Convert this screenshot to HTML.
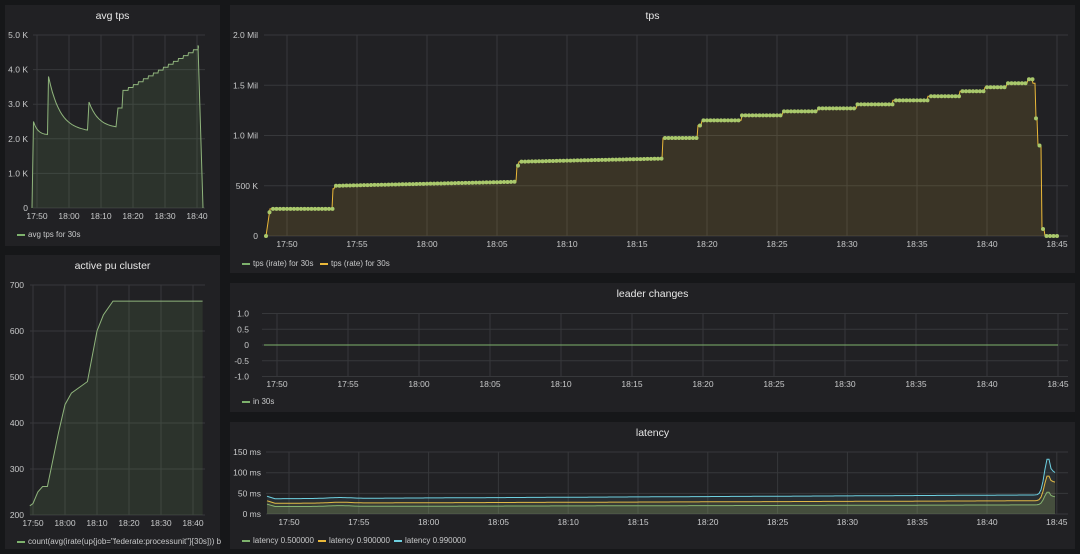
<!DOCTYPE html>
<html><head><meta charset="utf-8"><style>
body{margin:0;background:#161719;width:1080px;height:554px;overflow:hidden;font-family:"Liberation Sans",sans-serif;}
svg{position:absolute;left:0;top:0}
</style></head><body>
<svg id="s" width="1080" height="554" xmlns="http://www.w3.org/2000/svg" font-family="Liberation Sans, sans-serif"></svg>
<script>
const s=document.getElementById('s');let h='';
function panel(x,y,w,hh,t){h+=`<rect x="${x}" y="${y}" width="${w}" height="${hh}" fill="#212124"/>`;
h+=`<text x="${x+w/2}" y="${y+14}" fill="#e8e8e8" font-size="10.5" text-anchor="middle">${t}</text>`;}
function txt(x,y,t,a,c,fs){h+=`<text x="${x}" y="${y}" fill="${c||'#c8c9ca'}" font-size="${fs||8.5}" text-anchor="${a||'middle'}">${t}</text>`;}
function hl(x1,x2,y){h+=`<line x1="${x1}" x2="${x2}" y1="${y}" y2="${y}" stroke="#37383b" stroke-width="1"/>`;}
function vl(x,y1,y2){h+=`<line x1="${x}" x2="${x}" y1="${y1}" y2="${y2}" stroke="#37383b" stroke-width="1"/>`;}
function leg(x,y,t,c){h+=`<rect x="${x}" y="${y-3}" width="8" height="2" fill="${c}"/>`;txt(x+11,y,t,'start',null,8);}
function path(pts,stroke,fill,base){let d='M'+pts.map(p=>p[0].toFixed(1)+','+p[1].toFixed(1)).join('L');
 if(fill){h+=`<path d="${d}L${pts[pts.length-1][0]},${base}L${pts[0][0]},${base}Z" fill="${fill}"/>`;}
 h+=`<path d="${d}" stroke="${stroke}" fill="none" stroke-width="1"/>`;}
panel(5,5,215,241,'avg tps');panel(5,255,215,294,'active pu cluster');
panel(230,5,845,268,'tps');panel(230,283,845,129,'leader changes');panel(230,422,845,127,'latency');
// avg tps
{let L=33,R=205;[0,1,2,3,4,5].forEach(i=>{let y=208-34.6*i;hl(L,R,y);txt(28,y+3,i?i+'.0 K':'0','end');});
['17:50','18:00','18:10','18:20','18:30','18:40'].forEach((t,i)=>{let x=37+32*i;vl(x,35,208);txt(x,219,t);});
let p=[[32,208],[33.5,121.5]];
for(let i=1;i<=10;i++){let x=33.5+i*1.4;p.push([x,135+(121.5-135)*Math.exp(-i/3)]);}
p.push([48.5,76.5]);for(let i=1;i<=20;i++){let x=48.5+i*1.95;p.push([x,132+(76.5-132)*Math.exp(-i/6)]);}
p.push([89,102]);for(let i=1;i<=14;i++){let x=89+i*1.93;p.push([x,128.4+(102-128.4)*Math.exp(-i/5)]);}
p.push([118,108],[122,108],[123,90.4]);
let lv=90.4,x=123;while(x<196){x+=5;p.push([x,lv]);lv-=2.9;p.push([x+0.5,lv]);}
p.push([198,45.4],[203,208]);
path(p,'#8fb47c','rgba(126,178,109,0.12)',208);
leg(17,237,'avg tps for 30s','#7eb26d');}
// active pu
{let L=30,R=205;[200,300,400,500,600,700].forEach(v=>{let y=515-0.46*(v-200);hl(L,R,y);txt(24,y+3,v,'end');});
['17:50','18:00','18:10','18:20','18:30','18:40'].forEach((t,i)=>{let x=33+32*i;vl(x,285,515);txt(x,526,t);});
let d=[[-1,220],[0,225],[1.5,250],[3,262],[4.5,262],[8,380],[10,440],[12,465],[17,490],[20,600],[22,635],[25,665],[53,665]];
path(d.map(a=>[33+3.2*a[0],515-0.46*(a[1]-200)]),'#8fb47c','rgba(126,178,109,0.12)',515);
leg(17,544,'count(avg(irate(up{job="federate:processunit"}[30s])) b','#7eb26d');}
// tps
{let L=264,R=1068;[0,0.5,1,1.5,2].forEach(v=>{let y=236-100.5*v;hl(L,R,y);txt(258,y+3,v==0?'0':v==0.5?'500 K':v.toFixed(1)+' Mil','end');});
['17:50','17:55','18:00','18:05','18:10','18:15','18:20','18:25','18:30','18:35','18:40','18:45'].forEach((t,i)=>{let x=287+70*i;vl(x,35,236);txt(x,247,t);});
function f(x){if(x<266)return 0;if(x<270)return 0.27*(x-266)/4;if(x<333)return 0.27;if(x<335)return 0.47;if(x<517)return 0.5+0.04*(x-338)/180;
if(x<519)return 0.7;if(x<663)return 0.74+0.03*(x-522)/140;if(x<698)return 0.975;if(x<702)return 1.1;
const st=[[742,1.15],[783,1.2],[818,1.24],[857,1.27],[893,1.31],[928,1.35],[960,1.39],[985,1.44],[1007,1.48],[1028,1.52],[1033,1.56]];
for(const a of st)if(x<a[0])return a[1];
if(x<1036)return 1.52;if(x<1038)return 1.17;if(x<1042)return 0.9;if(x<1045)return 0.07;return 0;}
let p=[],dots='';for(let x=266;x<=1058;x+=1){p.push([x,236-100.5*f(x)]);}
path(p,'#eab839','rgba(234,184,57,0.13)',236);
for(let x=266;x<=1058;x+=3.5){dots+=`<circle cx="${x}" cy="${236-100.5*f(x)}" r="2" fill="#a9c86c"/>`;}
h+=dots;
leg(242,266,'tps (irate) for 30s','#7eb26d');leg(320,266,'tps (rate) for 30s','#eab839');}
// leader changes
{let L=262,R=1068;[[1,'1.0'],[0.5,'0.5'],[0,'0'],[-0.5,'-0.5'],[-1,'-1.0']].forEach(a=>{let y=345-31.5*a[0];hl(L,R,y);txt(249,y+3,a[1],'end');});
['17:50','17:55','18:00','18:05','18:10','18:15','18:20','18:25','18:30','18:35','18:40','18:45'].forEach((t,i)=>{let x=277+71*i;vl(x,313,376);txt(x,387,t);});
h+=`<line x1="264" x2="1058" y1="345" y2="345" stroke="#7eb26d"/>`;
leg(242,404,'in 30s','#7eb26d');}
// latency
{let L=266,R=1068;[[0,'0 ms'],[50,'50 ms'],[100,'100 ms'],[150,'150 ms']].forEach(a=>{let y=514-0.413*a[0];hl(L,R,y);txt(261,y+3,a[1],'end');});
['17:50','17:55','18:00','18:05','18:10','18:15','18:20','18:25','18:30','18:35','18:40','18:45'].forEach((t,i)=>{let x=289+69.8*i;vl(x,452,514);txt(x,525,t);});
function ser(base,rise,spk,end){let p=[];for(let x=267;x<=1056;x+=2){let v=base+rise*(x-267)/760;
 if(x<275)v+=6*(275-x)/8; v+=2*Math.exp(-Math.pow((x-340)/15,2));
 v+=spk*Math.exp(-Math.pow((x-1048)/5,2));if(x>1048)v=Math.max(v,end+(spk+base-end)*Math.exp(-(x-1048)/4));p.push([x,514-0.413*v]);}return p;}
path(ser(18,4,32,40),'#7eb26d','rgba(126,178,109,0.15)',514);
path(ser(26,6,62,75),'#eab839','rgba(234,184,57,0.10)',514);
path(ser(37,9,90,95),'#6ed0e0','rgba(110,208,224,0.08)',514);
leg(242,543,'latency 0.500000','#7eb26d');leg(318,543,'latency 0.900000','#eab839');leg(394,543,'latency 0.990000','#6ed0e0');}
s.innerHTML=h;
</script>
</body></html>
